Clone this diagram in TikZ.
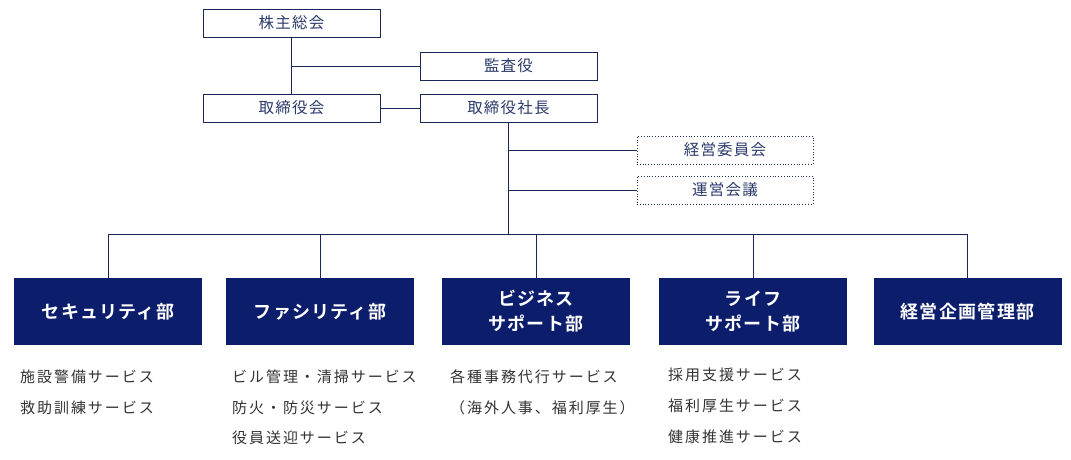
\documentclass[tikz,border=0pt]{standalone}
\usepackage{fontspec}
\setmainfont{Noto Sans CJK JP}[BoldFont={Noto Sans CJK JP Bold}]
\newfontfamily\jpfont{Noto Sans CJK JP}[LetterSpace=8]
\newfontfamily\jpsvc{Noto Sans CJK JP}[LetterSpace=13]
\newfontfamily\jpbold{Noto Sans CJK JP Bold}[LetterSpace=7]
\definecolor{navy}{HTML}{0B1D6B}
\definecolor{linec}{HTML}{1A2858}
\definecolor{boxtext}{HTML}{2B3A6B}
\definecolor{svctext}{HTML}{333333}
\tikzset{
  topbox/.style={draw=linec, line width=1pt, minimum width=177pt, minimum height=28pt, inner sep=0pt, text=boxtext, font=\jpfont\fontsize{15.5}{18}\selectfont},
  dotbox/.style={draw=linec, dotted, line width=0.8pt, minimum width=176pt, minimum height=28pt, inner sep=0pt, text=boxtext, font=\jpfont\fontsize{15.5}{18}\selectfont},
  deptbox/.style={fill=navy, draw=none, minimum width=188pt, minimum height=67pt, inner sep=0pt, text=white, align=center, font=\jpbold\fontsize{18}{25}\selectfont},
  svc/.style={anchor=west, inner sep=0pt, text=svctext, font=\jpsvc\fontsize{15}{17}\selectfont},
  conn/.style={draw=linec, line width=1pt}
}
\begin{document}
\begin{tikzpicture}[x=1pt,y=-1pt]
\useasboundingbox (0,0) rectangle (1071,459);
\fill[white] (0,0) rectangle (1071,459);
% top boxes
\node[topbox] (kabu) at (291.5,23) {株主総会};
\node[topbox] (kansa) at (508.5,66) {監査役};
\node[topbox] (torikai) at (291.5,108) {取締役会};
\node[topbox] (shacho) at (508.5,108) {取締役社長};
\node[dotbox] (keiei) at (725,150) {経営委員会};
\node[dotbox] (unei) at (725,190) {運営会議};
% departments
\node[deptbox] (d1) at (108,311.5) {セキュリティ部};
\node[deptbox] (d2) at (320,311.5) {ファシリティ部};
\node[deptbox] (d3) at (536,311.5) {ビジネス\\サポート部};
\node[deptbox] (d4) at (753,311.5) {ライフ\\サポート部};
\node[deptbox] (d5) at (967.5,311.5) {経営企画管理部};
% bus coordinates
\coordinate (busL) at (108,234);
\coordinate (busR) at (967.5,234);
% connectors
\draw[conn] (kabu.south) -- (torikai.north);
\draw[conn] (kabu.south |- kansa.west) -- (kansa.west);
\draw[conn] (torikai.east) -- (shacho.west);
\draw[conn] (shacho.south) -- (shacho.south |- busL);
\draw[conn] (shacho.south |- keiei.west) -- (keiei.west);
\draw[conn] (shacho.south |- unei.west) -- (unei.west);
\draw[conn] (busL) -- (busR);
\foreach \d in {d1,d2,d3,d4,d5}{
  \draw[conn] (\d.north) -- (\d.north |- busL);
}
% services
\node[svc] (s11) at (20,377) {施設警備サービス};
\node[svc] (s12) at (20,408) {救助訓練サービス};
\node[svc] (s21) at (232,377) {ビル管理・清掃サービス};
\node[svc] (s22) at (232,408) {防火・防災サービス};
\node[svc] (s23) at (232,438) {役員送迎サービス};
\node[svc] (s31) at (450,377) {各種事務代行サービス};
\node[svc] (s32) at (450,408) {（海外人事、福利厚生）};
\node[svc] (s41) at (668,375) {採用支援サービス};
\node[svc] (s42) at (668,406) {福利厚生サービス};
\node[svc] (s43) at (668,437) {健康推進サービス};
\end{tikzpicture}
\end{document}
